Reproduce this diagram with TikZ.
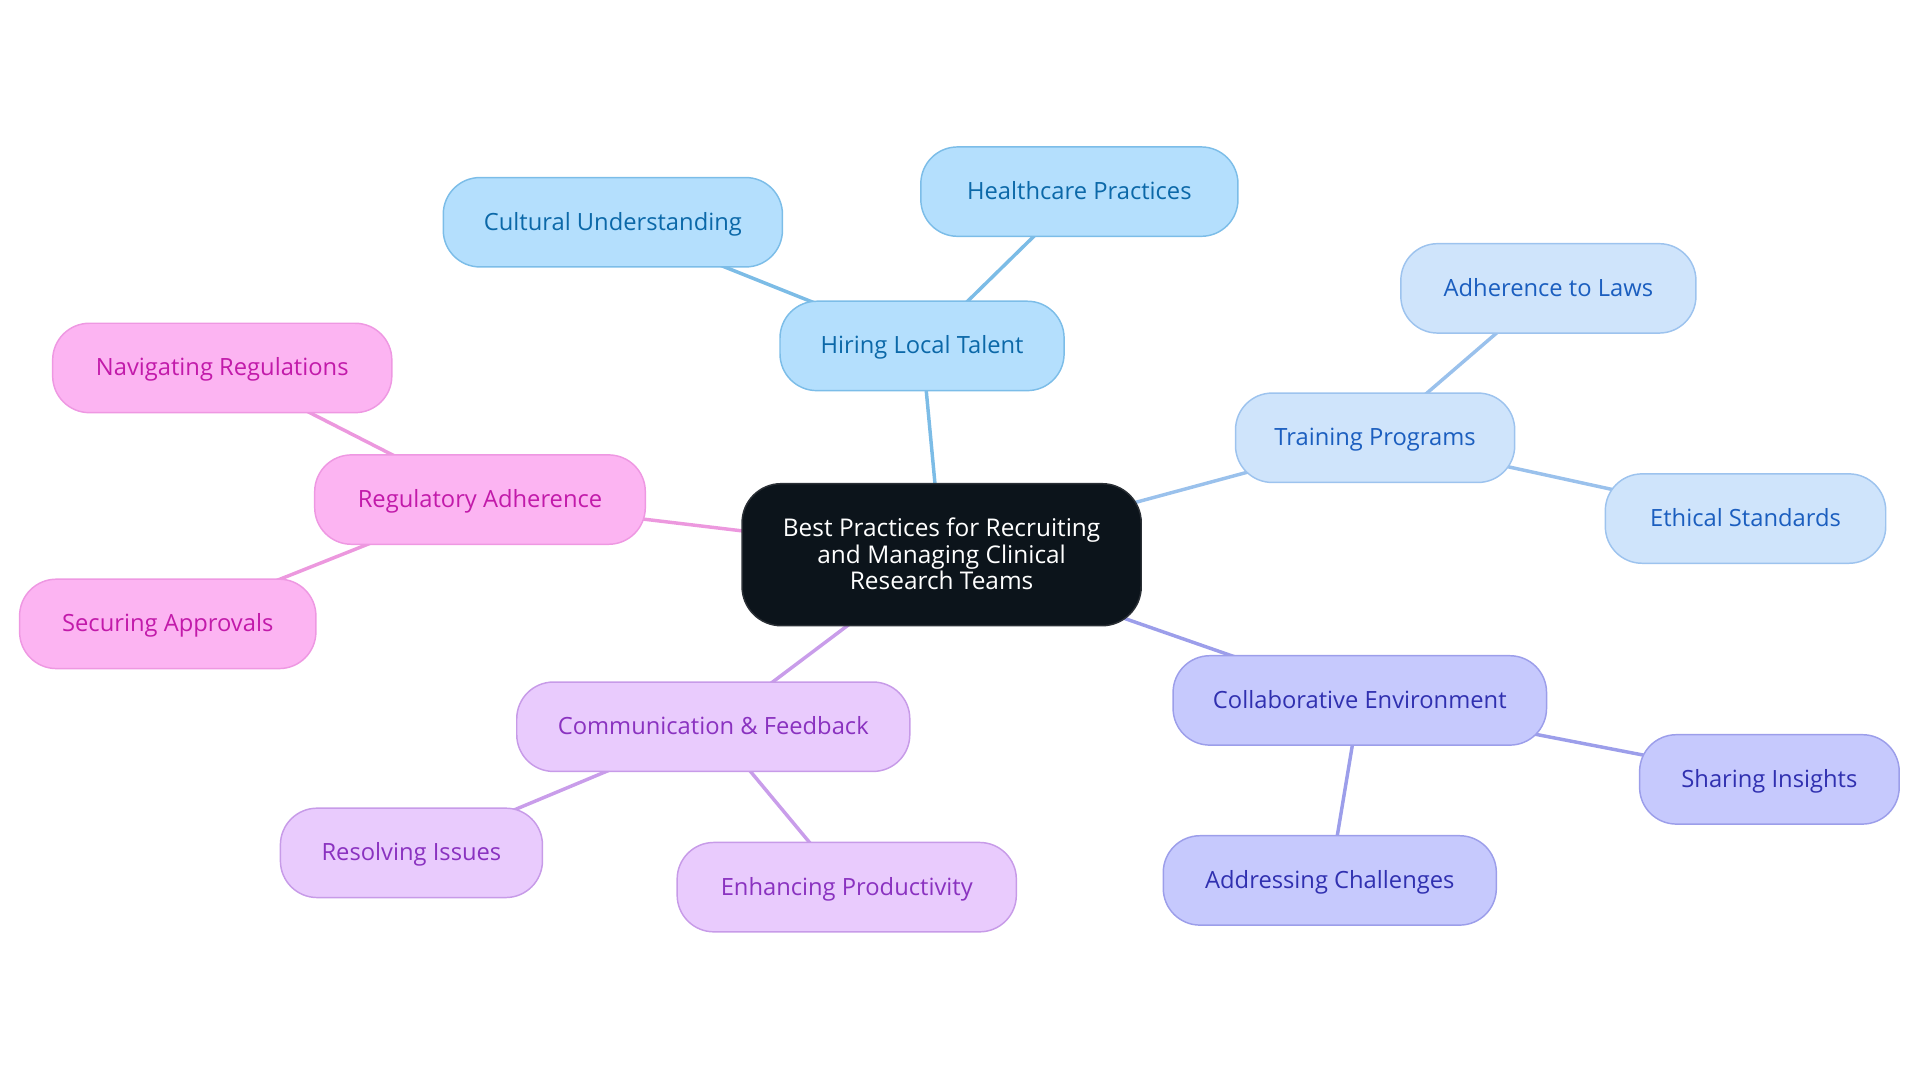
\documentclass[tikz,border=0pt]{standalone}
\usepackage{fontspec}
\setmainfont{Open Sans}
\usetikzlibrary{backgrounds}
\def\U{0.9184pt}
\definecolor{bAfill}{HTML}{B4DFFD}\definecolor{bAdraw}{HTML}{7CBDE8}\definecolor{bAtext}{HTML}{0B68A8}\definecolor{bAline}{HTML}{7CBCE6}
\definecolor{bBfill}{HTML}{CFE4FB}\definecolor{bBdraw}{HTML}{9DC3EE}\definecolor{bBtext}{HTML}{1B5EBF}\definecolor{bBline}{HTML}{9AC1EC}
\definecolor{inFill}{HTML}{C6C9FD}\definecolor{inDraw}{HTML}{9C9EEA}\definecolor{inText}{HTML}{3030B0}\definecolor{inLine}{HTML}{9C9EEA}
\definecolor{puFill}{HTML}{E9CBFD}\definecolor{puDraw}{HTML}{C79BE8}\definecolor{puText}{HTML}{8A32C0}\definecolor{puLine}{HTML}{C99DEA}
\definecolor{piFill}{HTML}{FCB4F2}\definecolor{piDraw}{HTML}{EE98E2}\definecolor{piText}{HTML}{C21AAA}\definecolor{piLine}{HTML}{EC98DE}
\definecolor{ctFill}{HTML}{0C141B}\definecolor{ctDraw}{HTML}{2A2F35}
\tikzset{
  pill/.style={rounded corners=30*\U, minimum height=73*\U, inner sep=0pt, line width=1.1pt, font=\fontsize{17.8}{19.7}\selectfont, align=center, text depth=0.15em},
  grpA/.style={pill, fill=bAfill, draw=bAdraw, text=bAtext},
  grpB/.style={pill, fill=bBfill, draw=bBdraw, text=bBtext},
  grpC/.style={pill, fill=inFill, draw=inDraw, text=inText},
  grpD/.style={pill, fill=puFill, draw=puDraw, text=puText},
  grpE/.style={pill, fill=piFill, draw=piDraw, text=piText},
  root/.style={pill, rounded corners=32*\U, minimum height=116*\U, fill=ctFill, draw=ctDraw, text=white, font=\fontsize{18.3}{19.7}\selectfont},
  link/.style={line width=2.6pt},
}
\begin{document}
\begin{tikzpicture}[x=\U, y=-\U]
\useasboundingbox (0,0) rectangle (1568,884.4);
\node[root, minimum width=326*\U] (c) at (769,453) {Best Practices for Recruiting\\and Managing Clinical\\Research Teams};
\node[grpA, minimum width=232*\U] (hire) at (753,282.5) {Hiring Local Talent};
\node[grpA, minimum width=277*\U] (cult) at (500.5,181.5) {Cultural Understanding};
\node[grpA, minimum width=259*\U] (health) at (881.5,156.5) {Healthcare Practices};
\node[grpB, minimum width=228*\U] (train) at (1123,357.5) {Training Programs};
\node[grpB, minimum width=241*\U] (laws) at (1264.5,235.5) {Adherence to Laws};
\node[grpB, minimum width=229*\U] (ethic) at (1425.5,423.5) {Ethical Standards};
\node[grpC, minimum width=305*\U] (collab) at (1110.5,572) {Collaborative Environment};
\node[grpC, minimum width=212*\U] (share) at (1445,636.5) {Sharing Insights};
\node[grpC, minimum width=272*\U] (address) at (1086,719) {Addressing Challenges};
\node[grpD, minimum width=321*\U] (comm) at (582.5,593.5) {Communication \& Feedback};
\node[grpD, minimum width=214*\U] (resolve) at (336,696.5) {Resolving Issues};
\node[grpD, minimum width=277*\U] (enhance) at (691.5,724.5) {Enhancing Productivity};
\node[grpE, minimum width=270*\U] (reg) at (392,408) {Regulatory Adherence};
\node[grpE, minimum width=277*\U] (nav) at (181.5,300.5) {Navigating Regulations};
\node[grpE, minimum width=242*\U] (secure) at (137,509.5) {Securing Approvals};
\begin{scope}[on background layer]
\draw[link, bAline] (c.center) -- (hire.center);
\draw[link, bAline] (hire.center) -- (cult.center);
\draw[link, bAline] (hire.center) -- (health.center);
\draw[link, bBline] (c.center) -- (train.center);
\draw[link, bBline] (train.center) -- (laws.center);
\draw[link, bBline] (train.center) -- (ethic.center);
\draw[link, inLine] (c.center) -- (collab.center);
\draw[link, inLine] (collab.center) -- (share.center);
\draw[link, inLine] (collab.center) -- (address.center);
\draw[link, puLine] (c.center) -- (comm.center);
\draw[link, puLine] (comm.center) -- (resolve.center);
\draw[link, puLine] (comm.center) -- (enhance.center);
\draw[link, piLine] (c.center) -- (reg.center);
\draw[link, piLine] (reg.center) -- (nav.center);
\draw[link, piLine] (reg.center) -- (secure.center);
\end{scope}
\end{tikzpicture}
\end{document}
